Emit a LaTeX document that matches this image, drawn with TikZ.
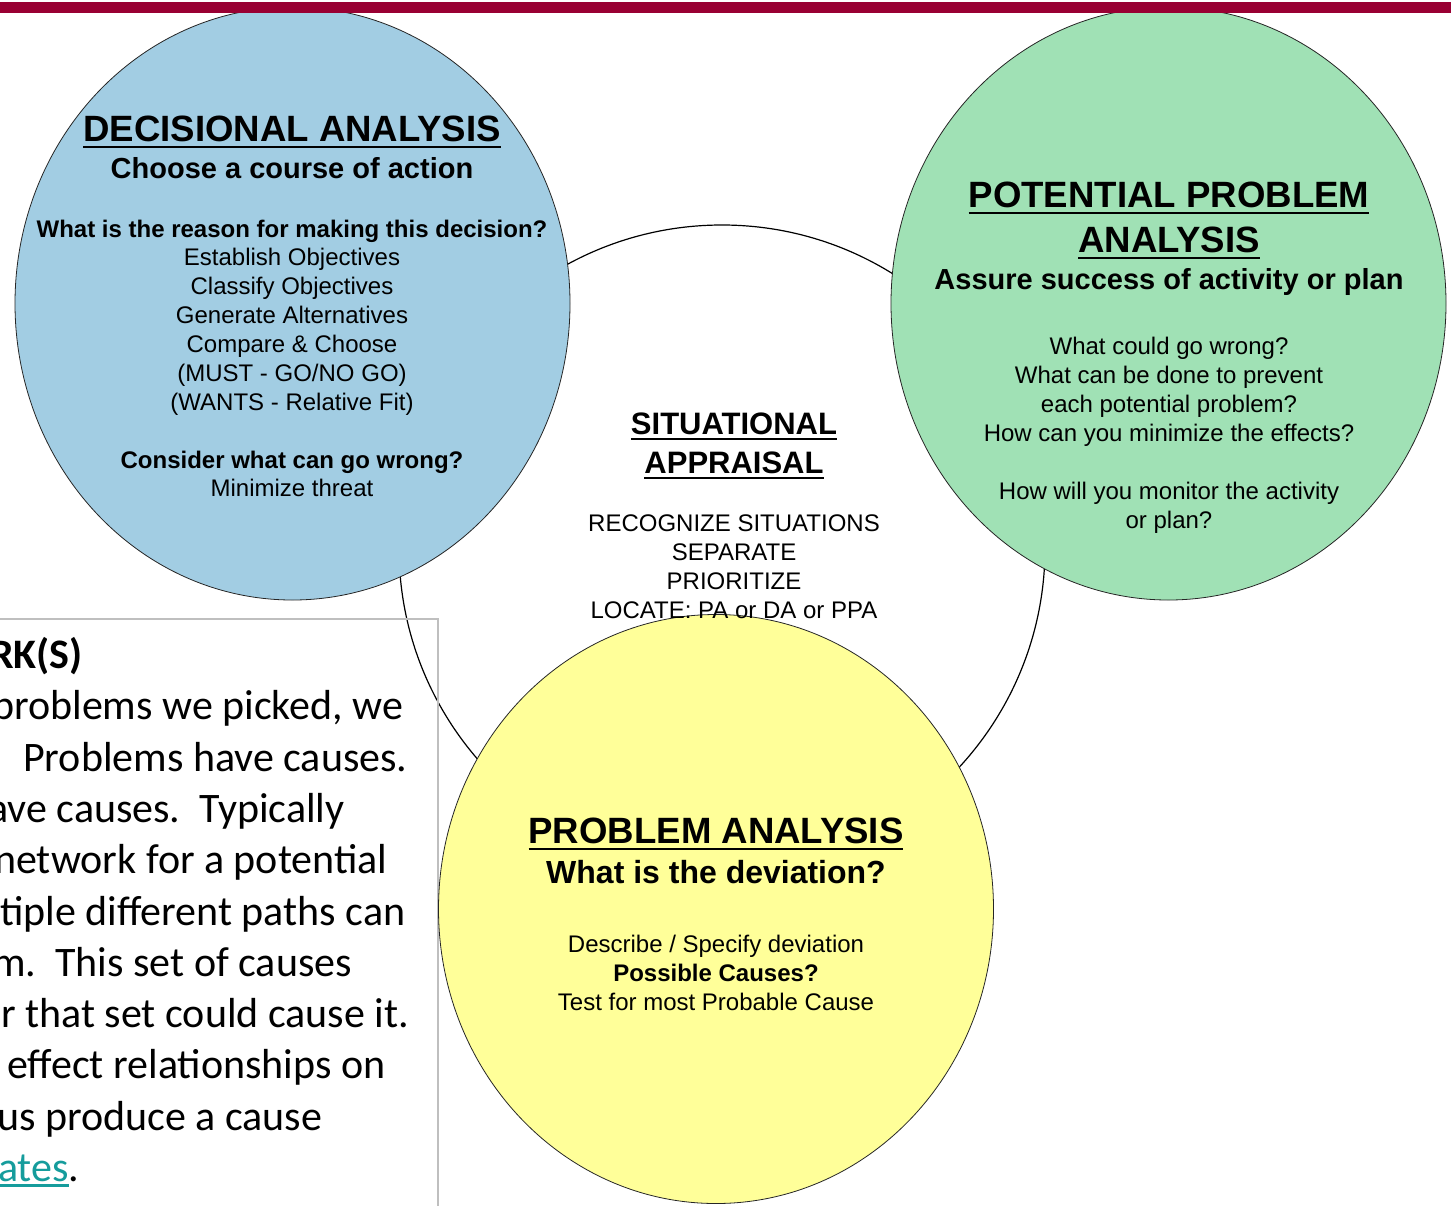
\documentclass[tikz,border=0pt]{standalone}
\usepackage{fontspec}
\setmainfont{Liberation Sans}
\newfontfamily\boxfont{Carlito}
\usepackage{xcolor}
\usetikzlibrary{shapes.geometric}

\definecolor{barred}{HTML}{990033}
\definecolor{dablue}{HTML}{A2CDE3}
\definecolor{ppagreen}{HTML}{A0E1B5}
\definecolor{payellow}{HTML}{FFFF99}
\definecolor{linkteal}{HTML}{159C9C}
\definecolor{boxgrey}{HTML}{BFBFBF}

\newcommand{\ulin}[3]{\setbox0\hbox{#3}\rlap{\rule[#1]{\wd0}{#2}}\box0}

\begin{document}
\begin{tikzpicture}[x=1pt,y=-1pt,
  circ/.style={ellipse, draw=black!85, line width=0.8pt, minimum width=555pt, minimum height=593pt, inner sep=0pt},
  head/.style={font=\fontsize{36.6}{44}\selectfont\bfseries, anchor=base, inner sep=0pt},
  sub/.style={font=\fontsize{29}{35}\selectfont\bfseries, anchor=base, inner sep=0pt},
  txt/.style={font=\fontsize{24}{29}\selectfont, anchor=base, inner sep=0pt},
  boxtxt/.style={font=\boxfont\fontsize{42}{51}\selectfont, anchor=base west, inner sep=0pt}]
  \fill[white] (0,0) rectangle (1451,1205);
  \useasboundingbox (0,0) rectangle (1451,1205);

  \node[circle, draw, line width=1.2pt, minimum size=646pt, inner sep=0pt] (sa) at (722,548) {};
  \draw[boxgrey, line width=2pt] (-5,619) rectangle (438,1215);

  \node[circ, fill=dablue] (da) at (292.5,303.5) {};
  \node[circ, fill=ppagreen] (ppa) at (1168.5,303.5) {};
  \node[circ, fill=payellow, minimum height=589pt] (pa) at (716,909) {};

  % decisional analysis
  \node[head] (da-title) at (292,141) {\ulin{-0.2em}{0.075em}{DECISIONAL ANALYSIS}};
  \node[sub] (da-sub) at (292,178.5) {Choose a course of action};
  \node[txt, font=\fontsize{24}{29}\selectfont\bfseries] (da-q) at (292,237.6) {What is the reason for making this decision?};
  \foreach \k/\t in {0/{Establish Objectives}, 1/{Classify Objectives}, 2/{Generate Alternatives}, 3/{Compare \& Choose}, 4/{(MUST - GO/NO GO)}, 5/{(WANTS - Relative Fit)}}
    \node[txt] (da-\k) at (292,265.6+29*\k) {\t};
  \node[txt, font=\fontsize{24}{29}\selectfont\bfseries] (da-wrong) at (292,468.6) {Consider what can go wrong?};
  \node[txt] (da-threat) at (292,496.6) {Minimize threat};

  % potential problem analysis
  \node[head] (ppa-title1) at (1169,207) {\ulin{-0.2em}{0.075em}{POTENTIAL PROBLEM}};
  \node[head] (ppa-title2) at (1169,252) {\ulin{-0.2em}{0.075em}{ANALYSIS}};
  \node[sub] (ppa-sub) at (1169,289.5) {Assure success of activity or plan};
  \foreach \k/\t in {0/What could go wrong?, 1/What can be done to prevent, 2/each potential problem?, 3/How can you minimize the effects?, 5/How will you monitor the activity, 6/or plan?}
    \node[txt] (ppa-\k) at (1169,354.6+29*\k) {\t};

  % situational appraisal
  \node[head, font=\fontsize{31}{39}\selectfont\bfseries] (sa-title1) at (734,434) {\ulin{-0.2em}{0.075em}{SITUATIONAL}};
  \node[head, font=\fontsize{31}{39}\selectfont\bfseries] (sa-title2) at (734,473) {\ulin{-0.2em}{0.075em}{APPRAISAL}};
  \foreach \k/\t in {0/RECOGNIZE SITUATIONS, 1/SEPARATE, 2/PRIORITIZE, 3/LOCATE: PA or DA or PPA}
    \node[txt] (sa-\k) at (734,531.6+29*\k) {\t};

  % problem analysis
  \node[head] (pa-title) at (716,843) {\ulin{-0.2em}{0.075em}{PROBLEM ANALYSIS}};
  \node[sub, font=\fontsize{32}{38}\selectfont\bfseries] (pa-sub) at (716,883.5) {What is the deviation?};
  \node[txt] (pa-0) at (716,952.6) {Describe / Specify deviation};
  \node[txt, font=\fontsize{24}{29}\selectfont\bfseries] (pa-1) at (716,981.6) {Possible Causes?};
  \node[txt] (pa-2) at (716,1010.6) {Test for most Probable Cause};

  % text box
  \node[boxtxt, font=\boxfont\fontsize{42}{51}\selectfont\bfseries] (box-0) at (-10,668.5) {RK(S)};
  \foreach \x/\k/\t in {-8/1/{problems we picked, we}, 23/2/{Problems have causes.}, -12/3/{ave causes.~~Typically}, -6/4/{network for a potential}, 0/5/{tiple different paths can}, -8/6/{m.~~This set of causes}, 1/7/{r that set could cause it.}, 7/8/{effect relationships on}, -3/9/{us produce a cause}}
    \node[boxtxt] (box-\k) at (\x,668.5+51.3*\k) {\t};
  \node[boxtxt] (box-10) at (-2,1181.5) {{\color{linkteal}\ulin{-0.12em}{0.05em}{ates}}.};

  \fill[barred] (0,1.5) rectangle (1451,13);
\end{tikzpicture}
\end{document}
